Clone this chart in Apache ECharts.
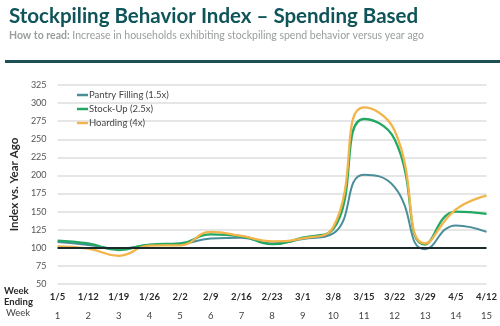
<!DOCTYPE html>
<html>
<head>
<meta charset="utf-8">
<script src="https://cdn.jsdelivr.net/npm/echarts@6/dist/echarts.min.js"></script>
<style>
html,body{margin:0;padding:0;background:#fff;}
#c{width:500px;height:326px;}
</style>
</head>
<body>
<div id="c"></div>
<script>
const weekEnding = ['1/5','1/12','1/19','1/26','2/2','2/9','2/16','2/23','3/1','3/8','3/15','3/22','3/29','4/5','4/12'];
const weekNums = ['1','2','3','4','5','6','7','8','9','10','11','12','13','14','15'];
const pantryFilling = [108,104,99,104,105,113,114,106,112,120,201,184,98,131,122];
const stockUp = [110,106,97,104.5,106,118.5,116,105,114,126,278,250,104.5,150,147];
const hoarding = [102,99,89,103,103.5,122,116.5,109,113,129,294,262,106,153,172];
const yTicks = [50,75,100,125,150,175,200,225,250,275,300,325];

const chart = echarts.init(document.getElementById('c'));
const lineStyle = (c,w)=>({color:c,width:w});
chart.setOption({
  animation:false,
  title:{
    text:'Stockpiling Behavior Index – Spending Based',
    left:4, top:1,
    textStyle:{fontFamily:'Lato',fontWeight:'bold',fontSize:20.5,color:'#0f5458'},
    subtext:'{b|How to read:} Increase in households exhibiting stockpiling spend behavior versus year ago',
    itemGap:3,
    subtextStyle:{fontFamily:'Lato',fontSize:10.5,color:'#9a9d9d',
      rich:{b:{fontFamily:'Lato',fontWeight:'bold',fontSize:10.5,color:'#9a9d9d'}}}
  },
  legend:{
    orient:'vertical', left:72, top:85, itemGap:4,
    icon:'rect', itemWidth:11, itemHeight:2.5,
    textStyle:{fontFamily:'Lato',fontSize:9.5,color:'#444',padding:[0,0,0,-4],height:11},
    data:['Pantry Filling (1.5x)','Stock-Up (2.5x)','Hoarding (4x)']
  },
  grid:{left:47,right:12,top:85,bottom:42,containLabel:false},
  xAxis:{
    type:'category', data:weekEnding, boundaryGap:false,
    axisLine:{show:false}, axisTick:{show:false},
    axisLabel:{
      margin:3, interval:0,
      formatter:(v,i)=>'{d|'+v+'}\n{w|'+weekNums[i]+'}',
      rich:{
        d:{fontFamily:'Lato',fontWeight:'bold',fontSize:9.5,color:'#2a2a2a',lineHeight:19},
        w:{fontFamily:'Lato',fontSize:9.5,color:'#444',lineHeight:19}
      }
    }
  },
  yAxis:{
    type:'value', min:50, max:325, interval:25,
    name:'Index vs. Year Ago', nameLocation:'middle', nameGap:30,
    nameTextStyle:{fontFamily:'Lato',fontWeight:'bold',fontSize:11.5,color:'#2a2a2a'},
    axisLine:{show:false}, axisTick:{show:false},
    axisLabel:{fontFamily:'Lato',fontSize:9,color:'#555',margin:11},
    splitLine:{lineStyle:{color:'#dedede',width:1.5}}
  },
  graphic:[
    {type:'rect',shape:{x:5,y:60,width:495,height:3},style:{fill:'#1d5156'}},
    {type:'text',left:4,top:285,style:{text:'Week\nEnding',fontFamily:'Lato',fontWeight:'bold',fontSize:9.5,lineHeight:11,fill:'#2a2a2a',align:'center'}},
    {type:'text',left:6,top:308,style:{text:'Week',fontFamily:'Lato',fontSize:9.5,fill:'#444'}}
  ],
  series:[
    {name:'Pantry Filling (1.5x)',type:'line',smooth:true,symbol:'none',data:pantryFilling,lineStyle:lineStyle('#4b8d98',2),itemStyle:{color:'#4b8d98'},
     markLine:{silent:true,symbol:'none',label:{show:false},lineStyle:{color:'#1a2a2a',width:1.8,type:'solid'},data:[{yAxis:100}]}},
    {name:'Stock-Up (2.5x)',type:'line',smooth:true,symbol:'none',data:stockUp,lineStyle:lineStyle('#22a862',2.3),itemStyle:{color:'#22a862'}},
    {name:'Hoarding (4x)',type:'line',smooth:true,symbol:'none',data:hoarding,lineStyle:lineStyle('#f2b54c',2.3),itemStyle:{color:'#f2b54c'}}
  ]
});
</script>
</body>
</html>
